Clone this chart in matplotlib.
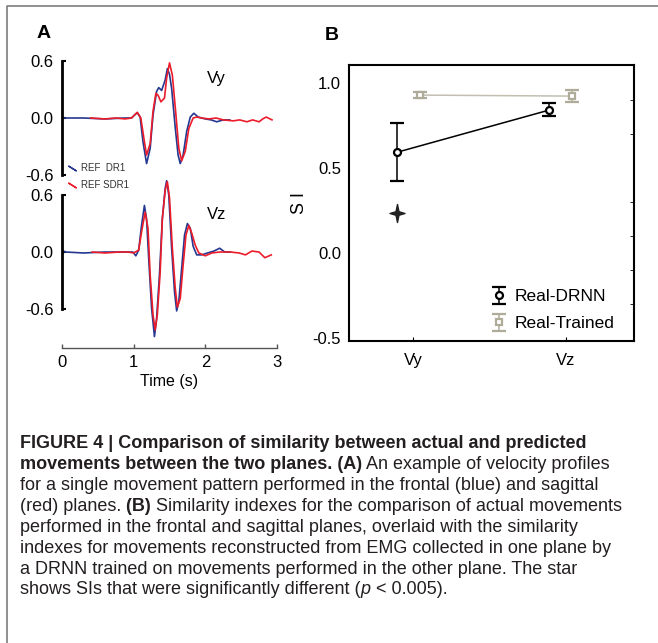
import numpy as np
import matplotlib
matplotlib.use("Agg")
import matplotlib.pyplot as plt
from matplotlib.lines import Line2D
from matplotlib.path import Path

# ---- panel A: velocity profiles ----
vy_blue_t = [0.0, 0.3, 0.6, 0.88, 0.97, 1.01, 1.05, 1.09, 1.13, 1.18, 1.23, 1.27, 1.32, 1.35, 1.39,
             1.44, 1.47, 1.50, 1.53, 1.58, 1.62, 1.65, 1.69, 1.74, 1.79, 1.84, 1.90, 2.0, 2.08,
             2.16, 2.25, 2.34]
vy_blue_v = [0.0, 0.0, -0.01, 0.0, 0.0, 0.03, 0.056, 0.01, -0.25, -0.48, -0.32, 0.03, 0.28, 0.32, 0.29,
             0.40, 0.52, 0.46, 0.31, -0.10, -0.39, -0.48, -0.39, -0.14, 0.01, 0.05, 0.01, -0.01, -0.02,
             -0.04, -0.02, -0.02]

vy_red_t = [0.40, 0.6, 0.75, 0.88, 0.97, 1.01, 1.05, 1.10, 1.15, 1.18, 1.23, 1.27, 1.31, 1.34, 1.38,
            1.43, 1.46, 1.50, 1.54, 1.59, 1.63, 1.67, 1.72, 1.77, 1.83, 1.88, 1.95, 2.05, 2.15, 2.25,
            2.39, 2.48, 2.58, 2.66, 2.75, 2.80, 2.85, 2.93]
vy_red_v = [0.0, -0.01, 0.0, -0.01, 0.0, 0.03, 0.06, 0.0, -0.25, -0.39, -0.27, 0.07, 0.26, 0.24, 0.17,
            0.21, 0.42, 0.58, 0.45, 0.03, -0.32, -0.45, -0.35, -0.11, 0.0, 0.01, 0.0, -0.01, 0.0, -0.02,
            -0.03, -0.02, -0.04, -0.02, -0.04, -0.01, 0.01, -0.02]

vz_blue_t = [0.0, 0.02, 0.05, 0.3, 0.6, 0.88, 0.99, 1.03, 1.07, 1.11, 1.15, 1.18, 1.21, 1.25, 1.29,
             1.32, 1.36, 1.40, 1.44, 1.46, 1.49, 1.53, 1.57, 1.60, 1.63, 1.67, 1.71, 1.75, 1.79,
             1.83, 1.88, 1.95, 2.03, 2.12, 2.20, 2.27, 2.35]
vz_blue_v = [-0.03, 0.01, 0.0, -0.01, 0.0, 0.0, 0.0, -0.04, 0.02, 0.28, 0.49, 0.35, -0.07, -0.59, -0.89,
             -0.70, -0.24, 0.35, 0.67, 0.75, 0.60, 0.04, -0.42, -0.62, -0.52, -0.17, 0.18, 0.30, 0.25,
             0.06, -0.03, -0.03, -0.01, 0.01, 0.04, 0.0, 0.0]

vz_red_t = [0.42, 0.6, 0.8, 0.92, 1.0, 1.07, 1.11, 1.16, 1.20, 1.23, 1.27, 1.30, 1.33, 1.37, 1.40,
            1.44, 1.47, 1.50, 1.54, 1.58, 1.61, 1.65, 1.69, 1.73, 1.77, 1.81, 1.86, 1.91, 2.0, 2.09,
            2.2, 2.35, 2.47, 2.56, 2.65, 2.75, 2.83, 2.92]
vz_red_v = [0.0, -0.01, 0.0, 0.0, -0.01, 0.02, 0.21, 0.42, 0.25, -0.24, -0.66, -0.82, -0.66, -0.21, 0.35,
            0.65, 0.74, 0.57, 0.04, -0.38, -0.58, -0.49, -0.14, 0.18, 0.28, 0.20, 0.07, -0.01, -0.04, -0.01,
            0.0, 0.0, -0.01, -0.03, 0.01, 0.0, -0.06, -0.03]

time_ticks = [0, 1, 2, 3]
v_ticks = [-0.6, 0.0, 0.6]
v_ticklabels = ["-0.6", "0.0", "0.6"]
legend_a = ["REF  DR1", "REF SDR1"]

# ---- panel B: similarity indexes ----
planes = ["Vy", "Vz"]
drnn_si = [0.594, 0.843]
drnn_lo = [0.167, 0.035]
drnn_hi = [0.171, 0.039]
trained_si = [0.931, 0.925]
trained_err = [0.02, 0.035]
star_si = [0.235]  # significant difference, Vy only
si_ticks = [-0.5, 0.0, 0.5, 1.0]
si_minor = [-0.3, -0.1, 0.1, 0.3, 0.5, 0.7, 0.9]

BLUE = "#25378f"
RED = "#ec1c2a"
GRAY = "#aeac98"

plt.rcParams["font.family"] = ["Liberation Sans", "DejaVu Sans"]

W, H = 658, 643
fig = plt.figure(figsize=(W / 100, H / 100), dpi=100)


def box(l, t, r, b):
    return [l / W, 1 - b / H, (r - l) / W, (b - t) / H]


# frame around the figure (top and left edge)
fig.add_artist(Line2D([7 / W, 7 / W, 1], [0, 1 - 6 / H, 1 - 6 / H], color="#7d7d7d", lw=1.2))

# --- panel A top (Vy)
axA1 = fig.add_axes(box(62, 51.5, 277, 184.5))
axA1.patch.set_alpha(0)
axA1.plot(vy_blue_t, vy_blue_v, color=BLUE, lw=1.2)
axA1.plot(vy_red_t, vy_red_v, color=RED, lw=1.2)
axA1.set_xlim(0, 3)
axA1.set_ylim(-0.7, 0.7)
axA1.text(2.15, 0.42, "Vy", fontsize=12, ha="center", va="center")

# --- panel A bottom (Vz)
axA2 = fig.add_axes(box(62, 171.25, 277, 348))
axA2.patch.set_alpha(0)
axA2.plot(vz_blue_t, vz_blue_v, color=BLUE, lw=1.2)
axA2.plot(vz_red_t, vz_red_v, color=RED, lw=1.2)
axA2.set_xlim(0, 3)
axA2.set_ylim(-1.01, 0.85)
axA2.text(2.16, 0.39, "Vz", fontsize=12, ha="center", va="center")

for ax in (axA1, axA2):
    for s in ("top", "right", "bottom"):
        ax.spines[s].set_visible(False)
    ax.spines["left"].set_bounds(-0.6, 0.6)
    ax.spines["left"].set_linewidth(2)
    ax.set_yticks(v_ticks)
    ax.set_yticklabels(v_ticklabels)
    ax.tick_params(axis="y", direction="in", length=3, width=1.5, pad=6, labelsize=12)
    ax.set_xticks([])

axA2.spines["bottom"].set_visible(True)
axA2.spines["bottom"].set_bounds(0, 3)
axA2.spines["bottom"].set_color("#555555")
axA2.spines["bottom"].set_linewidth(1)
axA2.set_xticks(time_ticks)
axA2.tick_params(axis="x", direction="in", length=3, width=1, color="#555555", pad=5, labelsize=12)
axA2.set_xlabel("Time (s)", fontsize=11.5, labelpad=3)

hA = [Line2D([], [], ls="none", marker=(2, 2, 58), markersize=7, mew=1, color=BLUE),
      Line2D([], [], ls="none", marker=(2, 2, 58), markersize=7, mew=1, color=RED)]
fig.legend(hA, legend_a, loc="upper left", bbox_to_anchor=(68 / W, 1 - 163 / H), frameon=False,
           fontsize=7, handlelength=0.8, handletextpad=0.5, labelspacing=0.75, borderpad=0,
           borderaxespad=0, labelcolor="#333333")

# --- panel B
axB = fig.add_axes(box(349.3, 65, 634, 340.7))
x = np.arange(len(planes))
axB.plot(x - 0.11, drnn_si, color="black", lw=1.1, zorder=3)
axB.plot(x + 0.04, trained_si, color="#c2bfb0", lw=1.1, zorder=2)
axB.errorbar(x - 0.11, drnn_si, yerr=[drnn_lo, drnn_hi], fmt="o", color="black", ecolor="black",
             elinewidth=1.1, capsize=5, capthick=1.1, markersize=5, mfc="white", mec="black",
             mew=1.6, label="Real-DRNN", zorder=4)
axB.errorbar(x + 0.04, trained_si, yerr=trained_err, fmt="s", color=GRAY, ecolor=GRAY,
             elinewidth=1.1, capsize=5, capthick=1.6, markersize=5, mfc="white", mec=GRAY,
             mew=1.6, label="Real-Trained", zorder=4)

# four-point star marker, slightly taller than wide
star = Path.unit_regular_star(4, 0.28)
star = Path(star.vertices * [1.0, 1.2], star.codes)
axB.plot(x[:1] - 0.11, star_si, ls="none", marker=star, markersize=13, color="#222222")

axB.set_xlim(-0.42, 1.445)
axB.set_ylim(-0.514, 1.108)
axB.set_xticks(x)
axB.set_xticklabels(planes)
axB.set_yticks(si_ticks)
axB.set_yticklabels([f"{v:.1f}" for v in si_ticks])
axB.set_yticks(si_minor, minor=True)
axB.tick_params(axis="y", which="major", length=0, pad=6, labelsize=12)
axB.tick_params(axis="y", which="minor", left=False, right=True, direction="in", length=3)
axB.tick_params(axis="x", direction="in", length=3, pad=9, labelsize=12)
for s in axB.spines.values():
    s.set_linewidth(1.5)
axB.set_ylabel("S I", fontsize=13, labelpad=3)
axB.legend(loc="lower right", bbox_to_anchor=(0.975, -0.01), frameon=False, fontsize=12.5,
           handlelength=1.3, handletextpad=0.25, labelspacing=0.68, borderaxespad=0.3)

fig.text(44 / W, 1 - 33 / H, "A", fontsize=14, weight="bold", ha="center", va="center")
fig.text(332 / W, 1 - 35 / H, "B", fontsize=14, weight="bold", ha="center", va="center")

# --- caption
cap = fig.add_axes([0, 0, 1, 1])
cap.axis("off")
cap.set_zorder(-1)
caption = [
    [("FIGURE 4 | Comparison of similarity between actual and predicted", "bold", "normal")],
    [("movements between the two planes. (A)", "bold", "normal"),
     (" An example of velocity profiles", "normal", "normal")],
    [("for a single movement pattern performed in the frontal (blue) and sagittal", "normal", "normal")],
    [("(red) planes.", "normal", "normal"), (" (B)", "bold", "normal"),
     (" Similarity indexes for the comparison of actual movements", "normal", "normal")],
    [("performed in the frontal and sagittal planes, overlaid with the similarity", "normal", "normal")],
    [("indexes for movements reconstructed from EMG collected in one plane by", "normal", "normal")],
    [("a DRNN trained on movements performed in the other plane. The star", "normal", "normal")],
    [("shows SIs that were significantly different (", "normal", "normal"), ("p", "normal", "italic"),
     (" < 0.005).", "normal", "normal")],
]
cap_size = 13.0
for i, parts in enumerate(caption):
    yb = 1 - (448.5 + i * 20.85) / H
    s, wgt, sty = parts[0]
    prev = cap.text(20 / W, yb, s, fontsize=cap_size, weight=wgt, style=sty,
                    color="#231f20", ha="left", va="baseline", transform=fig.transFigure)
    for s, wgt, sty in parts[1:]:
        prev = cap.annotate(s, xy=(1, 0), xycoords=prev, va="bottom", ha="left", fontsize=cap_size,
                            weight=wgt, style=sty, color="#231f20")

fig.savefig("out.png", dpi=100)
